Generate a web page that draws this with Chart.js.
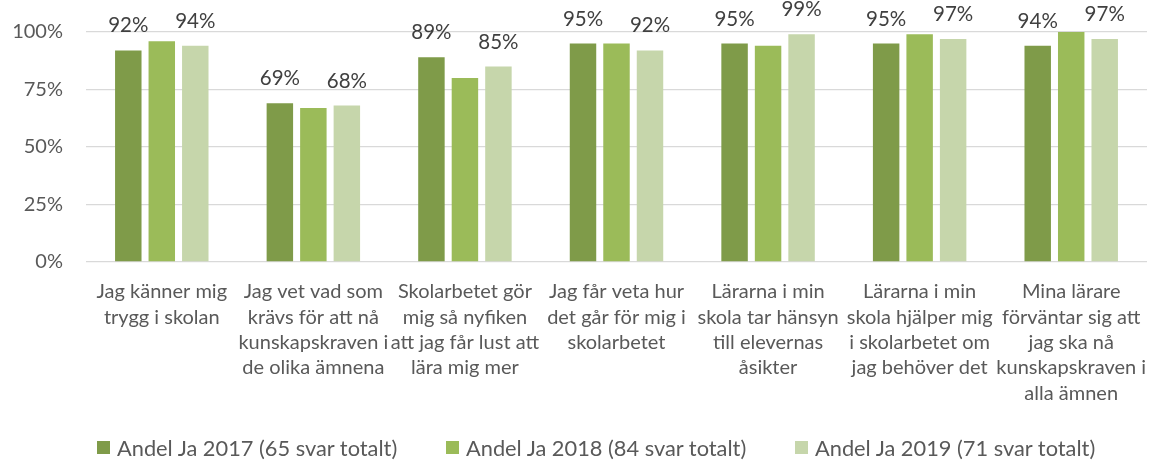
<!DOCTYPE html>
<html>
<head>
<meta charset="utf-8">
<script src="https://cdn.jsdelivr.net/npm/chart.js@4"></script>
<style>
    html, body { margin: 0; padding: 0; background: #ffffff; }
    #wrap { position: relative; width: 1150px; height: 461px; }
    .legend-item {
        position: absolute; top: 435px; height: 24px;
        display: flex; align-items: center;
        font-family: Lato, "Open Sans", sans-serif; font-size: 21.8px; color: #595959;
        white-space: nowrap;
    }
    .legend-item span.box { width: 13px; height: 13px; margin-right: 7px; display: inline-block; }
</style>
</head>
<body>
<div id="wrap">
    <canvas id="chart" width="1150" height="461"></canvas>
    <div id="legend"></div>
</div>
<script>
// Categories (already wrapped the way the axis shows them)
const categories = [
    ['Jag känner mig', 'trygg i skolan'],
    ['Jag vet vad som', 'krävs för att nå', 'kunskapskraven i', 'de olika ämnena'],
    ['Skolarbetet gör', 'mig så nyfiken', 'att jag får lust att', 'lära mig mer'],
    ['Jag får veta hur', 'det går för mig i', 'skolarbetet'],
    ['Lärarna i min', 'skola tar hänsyn', 'till elevernas', 'åsikter'],
    ['Lärarna i min', 'skola hjälper mig', 'i skolarbetet om', 'jag behöver det'],
    ['Mina lärare', 'förväntar sig att', 'jag ska nå', 'kunskapskraven i', 'alla ämnen']
];

// Share of "yes" answers, percent
const andel2017 = [92, 69, 89, 95, 95, 95, 94];
const andel2018 = [96, 67, 80, 95, 94, 99, 100];
const andel2019 = [94, 68, 85, 92, 99, 97, 97];

const seriesNames = [
    'Andel Ja 2017 (65 svar totalt)',
    'Andel Ja 2018 (84 svar totalt)',
    'Andel Ja 2019 (71 svar totalt)'
];

const yTicks = [0, 25, 50, 75, 100];

const FONT = 'Lato, "Open Sans", sans-serif';
const colors = ['#7f9b49', '#9bbb59', '#c6d6ab'];

// Value labels above the 2017 and 2019 bars
const valueLabels = {
    id: 'valueLabels',
    afterDatasetsDraw(chart) {
        const ctx = chart.ctx;
        ctx.save();
        ctx.font = '20.5px ' + FONT;
        ctx.fillStyle = '#404040';
        ctx.textAlign = 'center';
        ctx.textBaseline = 'alphabetic';
        chart.data.datasets.forEach((ds, i) => {
            if (!ds.showValues) return;
            chart.getDatasetMeta(i).data.forEach((bar, j) => {
                ctx.fillText(ds.data[j] + '%', bar.x, bar.y - 18);
            });
        });
        ctx.restore();
    }
};

const chart = new Chart(document.getElementById('chart'), {
    type: 'bar',
    data: {
        labels: categories,
        datasets: [
            { label: seriesNames[0], data: andel2017, backgroundColor: colors[0], showValues: true },
            { label: seriesNames[1], data: andel2018, backgroundColor: colors[1], showValues: false },
            { label: seriesNames[2], data: andel2019, backgroundColor: colors[2], showValues: true }
        ]
    },
    options: {
        responsive: false,
        animation: false,
        devicePixelRatio: 1,
        categoryPercentage: 0.663,
        barPercentage: 0.79,
        layout: { padding: { top: 32, right: 3, left: 0, bottom: 0 } },
        plugins: {
            tooltip: { enabled: false },
            legend: { display: false }
        },
        scales: {
            x: {
                grid: { display: false },
                border: { display: false },
                ticks: {
                    color: '#595959',
                    padding: 9,
                    maxRotation: 0,
                    autoSkip: false,
                    font: { family: FONT, size: 20, lineHeight: 1.27 }
                },
                afterFit(scale) {
                    scale.height = 199;
                    scale.paddingLeft = 0;
                    scale.paddingRight = 0;
                }
            },
            y: {
                min: 0,
                max: 100,
                afterBuildTicks(scale) { scale.ticks = yTicks.map(v => ({ value: v })); },
                grid: { color: '#d9d9d9', lineWidth: 1.3, drawTicks: false },
                border: { display: false },
                ticks: {
                    color: '#595959',
                    padding: 23,
                    font: { family: FONT, size: 20 },
                    callback: v => v + '%'
                },
                afterFit(scale) {
                    scale.width = 86;
                    scale.paddingTop = 0;
                    scale.paddingBottom = 0;
                }
            }
        }
    },
    plugins: [valueLabels]
});

// Legend below the chart, built from the dataset names and colours
const legendLeft = [97, 446, 795];
let legendHTML = '';
chart.data.datasets.forEach((ds, i) => {
    legendHTML += `<div class="legend-item" style="left:${legendLeft[i]}px">` +
        `<span class="box" style="background:${ds.backgroundColor}"></span>${ds.label}</div>`;
});
document.getElementById('legend').innerHTML = legendHTML;
</script>
</body>
</html>
